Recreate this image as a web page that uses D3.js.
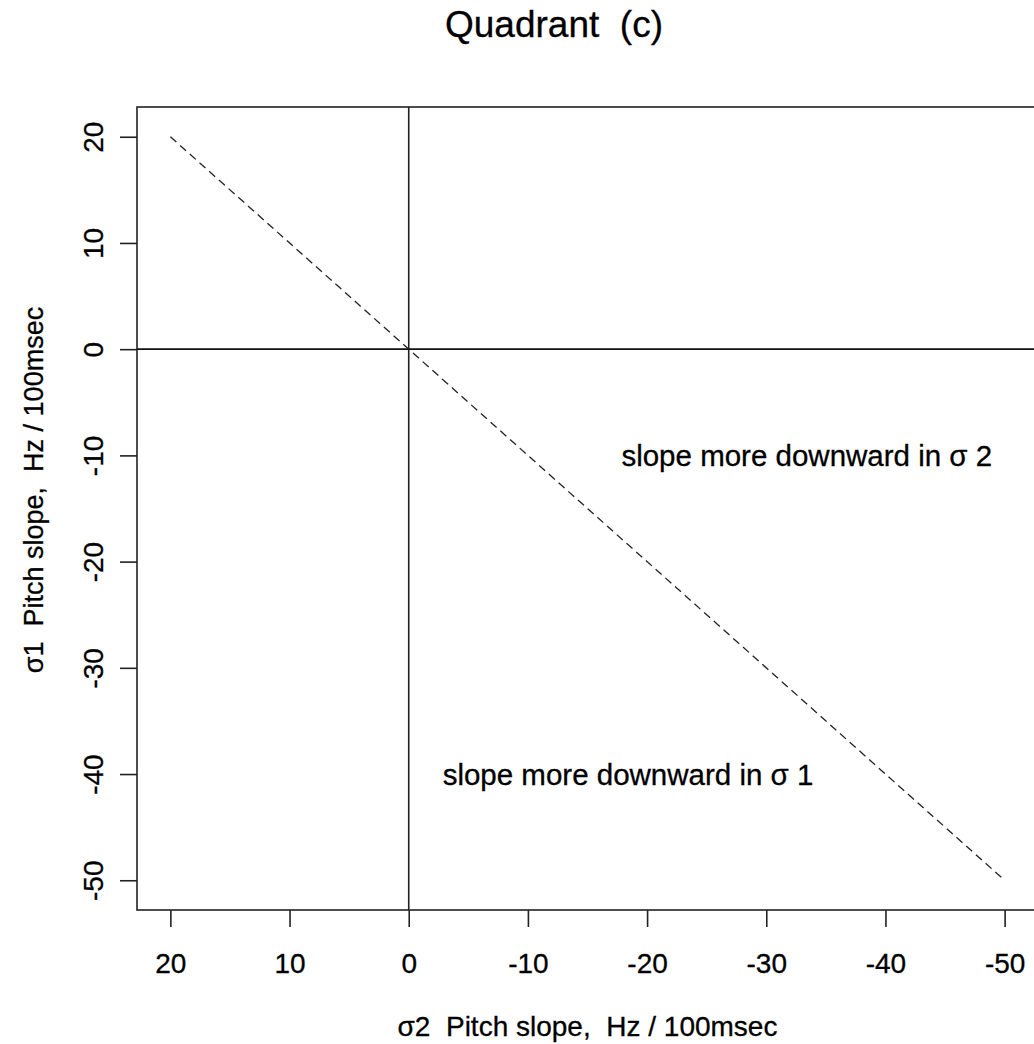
<!DOCTYPE html>
<html>
<head>
<meta charset="utf-8">
<script src="https://cdn.jsdelivr.net/npm/d3@7"></script>
<style>
  html, body { margin: 0; padding: 0; background: #fff; overflow: hidden; }
  text { font-family: "Liberation Sans", Arial, sans-serif; fill: #000; stroke: #000; stroke-width: 0.3px; }
</style>
</head>
<body>
<div id="chart"></div>
<script>
// data
const xTicks = [20, 10, 0, -10, -20, -30, -40, -50];
const yTicks = [20, 10, 0, -10, -20, -30, -40, -50];
const diagonal = [[20, 20], [-50, -50]];
const notes = [
  { x: -33.4, y: -10, label: "slope more downward in \u03c3 2" },
  { x: -18.4, y: -40, label: "slope more downward in \u03c3 1" },
];
const title = "Quadrant\u00a0\u00a0(c)";
const xLabel = "\u03c32\u00a0\u00a0Pitch slope,\u00a0\u00a0Hz / 100msec";
const yLabel = "\u03c31\u00a0\u00a0Pitch slope,\u00a0\u00a0Hz / 100msec";

const W = 1034, H = 1044;
const margin = { top: 107, right: -4, bottom: 134, left: 137 };

// R style: 4% padding around the data range, x axis reversed
const pad = 70 * 0.04;
const x = d3.scaleLinear()
  .domain([20 + pad, -50 - pad])
  .range([margin.left, W - margin.right]);
const y = d3.scaleLinear()
  .domain([20 + pad, -50 - pad])
  .range([margin.top, H - margin.bottom]);

const fmt = d => String(d); // plain hyphen minus, like R

const svg = d3.select("#chart").append("svg")
  .attr("width", W)
  .attr("height", H);

// frame
svg.append("rect")
  .attr("x", x.range()[0])
  .attr("y", y.range()[0])
  .attr("width", x.range()[1] - x.range()[0])
  .attr("height", y.range()[1] - y.range()[0])
  .attr("fill", "none")
  .attr("stroke", "#222")
  .attr("stroke-width", 1.6);

// reference lines through 0
svg.append("line")
  .attr("x1", x(0)).attr("x2", x(0))
  .attr("y1", y.range()[0]).attr("y2", y.range()[1])
  .attr("stroke", "#222").attr("stroke-width", 1.6);
svg.append("line")
  .attr("x1", x.range()[0]).attr("x2", x.range()[1])
  .attr("y1", y(0)).attr("y2", y(0))
  .attr("stroke", "#111").attr("stroke-width", 1.6);

// dashed diagonal
svg.append("path")
  .datum(diagonal)
  .attr("fill", "none")
  .attr("stroke", "#222")
  .attr("stroke-width", 1.3)
  .attr("stroke-dasharray", "8,5")
  .attr("d", d3.line().x(d => x(d[0])).y(d => y(d[1])));

// bottom axis
const gx = svg.append("g")
  .attr("transform", `translate(0,${y.range()[1]})`)
  .call(d3.axisBottom(x).tickValues(xTicks).tickSize(17).tickPadding(0).tickFormat(fmt));
gx.select(".domain").remove();
gx.selectAll(".tick line").attr("stroke", "#222").attr("stroke-width", 1.6);
gx.selectAll(".tick text")
  .attr("y", 63)
  .attr("dy", 0)
  .style("font-size", "28px");

// left axis, labels rotated like R's default
const gy = svg.append("g")
  .attr("transform", `translate(${x.range()[0]},0)`)
  .call(d3.axisLeft(y).tickValues(yTicks).tickSize(17).tickFormat(fmt));
gy.select(".domain").remove();
gy.selectAll(".tick line").attr("stroke", "#222").attr("stroke-width", 1.6);
gy.selectAll(".tick text")
  .attr("x", 0)
  .attr("dy", 0)
  .attr("text-anchor", "middle")
  .attr("transform", "translate(-34,0) rotate(-90)")
  .style("font-size", "28px");

// annotations
svg.selectAll(".note")
  .data(notes)
  .join("text")
  .attr("class", "note")
  .attr("x", d => x(d.x))
  .attr("y", d => y(d.y))
  .attr("dy", "0.36em")
  .attr("text-anchor", "middle")
  .style("font-size", "29.5px")
  .text(d => d.label);

// title and axis titles
svg.append("text")
  .attr("x", 554)
  .attr("y", 37)
  .attr("text-anchor", "middle")
  .style("font-size", "37px")
  .text(title);

svg.append("text")
  .attr("x", (x.range()[0] + x.range()[1]) / 2)
  .attr("y", 1036)
  .attr("text-anchor", "middle")
  .style("font-size", "28px")
  .text(xLabel);

svg.append("text")
  .attr("transform", "translate(43,490) rotate(-90)")
  .attr("text-anchor", "middle")
  .style("font-size", "27px")
  .text(yLabel);
</script>
</body>
</html>
